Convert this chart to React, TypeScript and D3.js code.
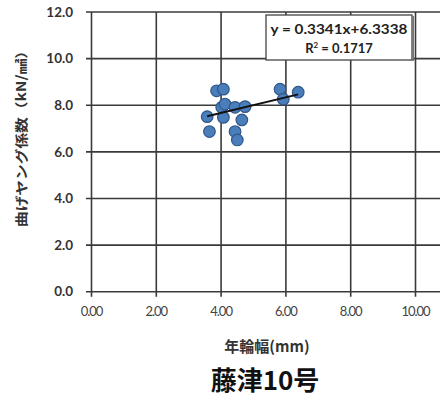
import React from "react";
import * as d3 from "d3";

// Ring width (mm) vs. bending Young's modulus (kN/mm²)
const ringWidth = [3.86, 4.07, 4.02, 4.12, 3.57, 3.64, 4.07, 4.43, 4.74, 4.64, 4.43, 4.5, 5.82, 5.92, 6.38];
const modulus = [8.62, 8.69, 7.91, 8.05, 7.51, 6.87, 7.48, 7.91, 7.94, 7.37, 6.87, 6.51, 8.69, 8.26, 8.56];
const slope = 0.3341;
const intercept = 6.3338;
const rSquared = 0.1717;
const xTicks = [0, 2, 4, 6, 8, 10];
const yTicks = [0, 2, 4, 6, 8, 10, 12];
const xGrid = [0, 2, 4, 6, 8, 10, 12];

const W = 440;
const H = 399;

export default function App() {
  const x = d3.scaleLinear().domain([0, 12]).range([91.5, 480.3]);
  const y = d3.scaleLinear().domain([0, 12]).range([291.7, 12]);
  const pts = ringWidth.map((v, i) => ({ x: v, y: modulus[i] }));
  const [xMin, xMax] = d3.extent(ringWidth) as [number, number];
  const fit = d3
    .line<number>()
    .x((d) => x(d))
    .y((d) => y(slope * d + intercept));
  const grid = "#3a3a3a";
  const numFont = "Lato, 'Liberation Sans', sans-serif";
  const jpFont = "'Noto Sans CJK JP', sans-serif";

  return (
    <svg
      width={W}
      height={H}
      style={{ position: "absolute", left: 0, top: 0, background: "#fff" }}
    >
      <rect width={W} height={H} fill="#fff" />
      {/* horizontal gridlines */}
      {yTicks.map((t) => (
        <line key={"h" + t} x1={x(0) - 5.5} x2={W} y1={y(t)} y2={y(t)} stroke={grid} strokeWidth={1.6} />
      ))}
      {/* vertical gridlines */}
      {xGrid.map((t) => (
        <line key={"v" + t} x1={x(t)} x2={x(t)} y1={y(12)} y2={y(0) + 5} stroke={grid} strokeWidth={1.6} />
      ))}
      {yTicks.map((t) => (
        <text
          key={"yl" + t}
          x={x(0) - 18.5}
          y={y(t)}
          dy="0.35em"
          textAnchor="end"
          fontFamily={numFont}
          fontWeight={700}
          fontSize={13.5}
          fill="#333"
        >
          {t.toFixed(1)}
        </text>
      ))}
      {xTicks.map((t) => (
        <text
          key={"xl" + t}
          x={x(t)}
          y={y(0) + 24}
          textAnchor="middle"
          fontFamily={numFont}
          fontSize={13}
          letterSpacing={-1}
          fill="#444"
        >
          {t.toFixed(2)}
        </text>
      ))}
      {/* points */}
      {pts.map((p, i) => (
        <circle
          key={"p" + i}
          cx={x(p.x)}
          cy={y(p.y)}
          r={5.8}
          fill="#4a7ebb"
          stroke="#30578a"
          strokeWidth={1.2}
        />
      ))}
      {/* linear fit */}
      <path d={fit([xMin, xMax]) || ""} stroke="#111" strokeWidth={2} fill="none" />
      {/* equation box */}
      <rect x={266} y={15} width={146} height={45} fill="#fff" stroke="#444" strokeWidth={1.3} />
      <line x1={413} x2={413} y1={16} y2={61} stroke="#777" strokeWidth={2} />
      <text
        x={339}
        y={29}
        dy="0.35em"
        textAnchor="middle"
        fontFamily={numFont}
        fontWeight={700}
        fontSize={13}
        textLength={137}
        lengthAdjust="spacingAndGlyphs"
        fill="#222"
      >
        {`y = ${slope}x+${intercept}`}
      </text>
      <text x={339} y={48} dy="0.35em" textAnchor="middle" fontFamily={numFont} fontWeight={700} fontSize={13} fill="#222">
        R<tspan dy="-4.5" fontSize={8}>2</tspan>
        <tspan dy="4.5">{` = ${rSquared}`}</tspan>
      </text>
      {/* axis titles */}
      <text
        transform={`translate(26,135) rotate(-90)`}
        textAnchor="middle"
        fontFamily={jpFont}
        fontWeight={700}
        fontSize={13}
        textLength={184}
        lengthAdjust="spacingAndGlyphs"
        fill="#333"
      >
        曲げヤング係数（kN/㎟）
      </text>
      <text x={267} y={352} textAnchor="middle" fontFamily={jpFont} fontWeight={700} fontSize={15} fill="#333">
        年輪幅(mm)
      </text>
      <text x={265} y={390} textAnchor="middle" fontFamily={jpFont} fontWeight={700} fontSize={26} fill="#111">
        藤津10号
      </text>
    </svg>
  );
}
